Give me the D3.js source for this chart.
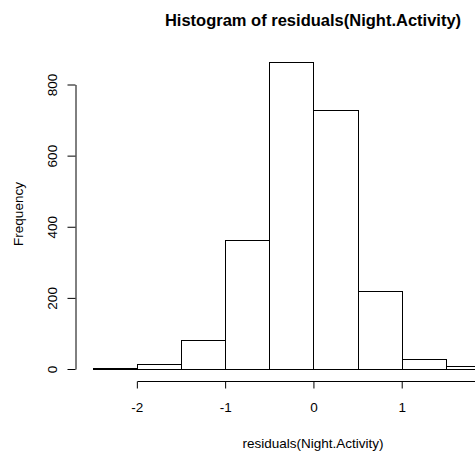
<!DOCTYPE html>
<html>
<head>
<meta charset="utf-8">
<script src="https://cdn.jsdelivr.net/npm/d3@7"></script>
<style>
  body { margin: 0; background: #fff; }
  svg { display: block; font-family: "Liberation Sans", Arial, sans-serif; }
</style>
</head>
<body>
<div id="container"></div>
<script>
// histogram breaks and counts
var breaks = [-2.5, -2, -1.5, -1, -0.5, 0, 0.5, 1, 1.5, 2];
var counts = [2, 15, 82, 363, 864, 729, 220, 29, 9];
// the tick at 2 falls outside the window, so only these are labelled
var xTicks = [-2, -1, 0, 1];
var yTicks = [0, 200, 400, 600, 800];

var width = 475, height = 454;

var svg = d3
  .select("#container")
  .append("svg")
  .attr("width", width)
  .attr("height", height);

var x = d3.scaleLinear().domain([-2.5, 2]).range([92.7, 490]);
var y = d3.scaleLinear().domain([0, 800]).range([369, 84.5]);

var bins = counts.map(function (c, i) {
  return { x0: breaks[i], x1: breaks[i + 1], n: c };
});

// bars
svg
  .selectAll(".bar")
  .data(bins)
  .enter()
  .append("rect")
  .attr("class", "bar")
  .attr("x", function (d) { return Math.round(x(d.x0)) + 0.5; })
  .attr("width", function (d) { return Math.round(x(d.x1)) - Math.round(x(d.x0)); })
  .attr("y", function (d) { return Math.round(y(d.n)) + 0.5; })
  .attr("height", function (d) { return Math.round(y(0)) - Math.round(y(d.n)); })
  .attr("fill", "none")
  .attr("stroke", "#000")
  .attr("stroke-width", 1);

// x axis
var xAxis = svg
  .append("g")
  .attr("transform", "translate(0,381.5)")
  .call(d3.axisBottom(x).tickValues(xTicks).tickSize(7).tickSizeOuter(0));
xAxis.select(".domain").remove();
xAxis
  .append("line")
  .attr("x1", Math.round(x(-2)) + 0.5)
  .attr("x2", Math.round(x(2)) + 0.5)
  .attr("stroke", "#000");
xAxis.selectAll(".tick line").attr("stroke", "#000");
xAxis
  .selectAll(".tick text")
  .attr("y", 26)
  .attr("dy", "0.35em")
  .attr("fill", "#000")
  .style("font-size", "13.5px")
  .style("font-family", "Liberation Sans, Arial, sans-serif")
  .text(function (d) { return d < 0 ? "-" + Math.abs(d) : d; });

// y axis
var yAxis = svg
  .append("g")
  .attr("transform", "translate(75.5,0)")
  .call(d3.axisLeft(y).tickValues(yTicks).tickSize(8).tickSizeOuter(0));
yAxis.select(".domain").attr("stroke", "#000");
yAxis.selectAll(".tick line").attr("stroke", "#000");
yAxis
  .selectAll(".tick text")
  .attr("x", null)
  .attr("dy", null)
  .attr("text-anchor", "middle")
  .attr("transform", "translate(-19,0) rotate(-90)")
  .attr("fill", "#000")
  .style("font-size", "13.5px")
  .style("font-family", "Liberation Sans, Arial, sans-serif");

// title
svg
  .append("text")
  .attr("x", 313)
  .attr("y", 26)
  .attr("text-anchor", "middle")
  .style("font-size", "16.5px")
  .style("font-weight", "bold")
  .text("Histogram of residuals(Night.Activity)");

// x-axis label
svg
  .append("text")
  .attr("x", 313)
  .attr("y", 447.5)
  .attr("text-anchor", "middle")
  .style("font-size", "13.5px")
  .text("residuals(Night.Activity)");

// y-axis label
svg
  .append("text")
  .attr("text-anchor", "middle")
  .attr("transform", "translate(22.5,214) rotate(-90)")
  .style("font-size", "13.5px")
  .text("Frequency");
</script>
</body>
</html>
